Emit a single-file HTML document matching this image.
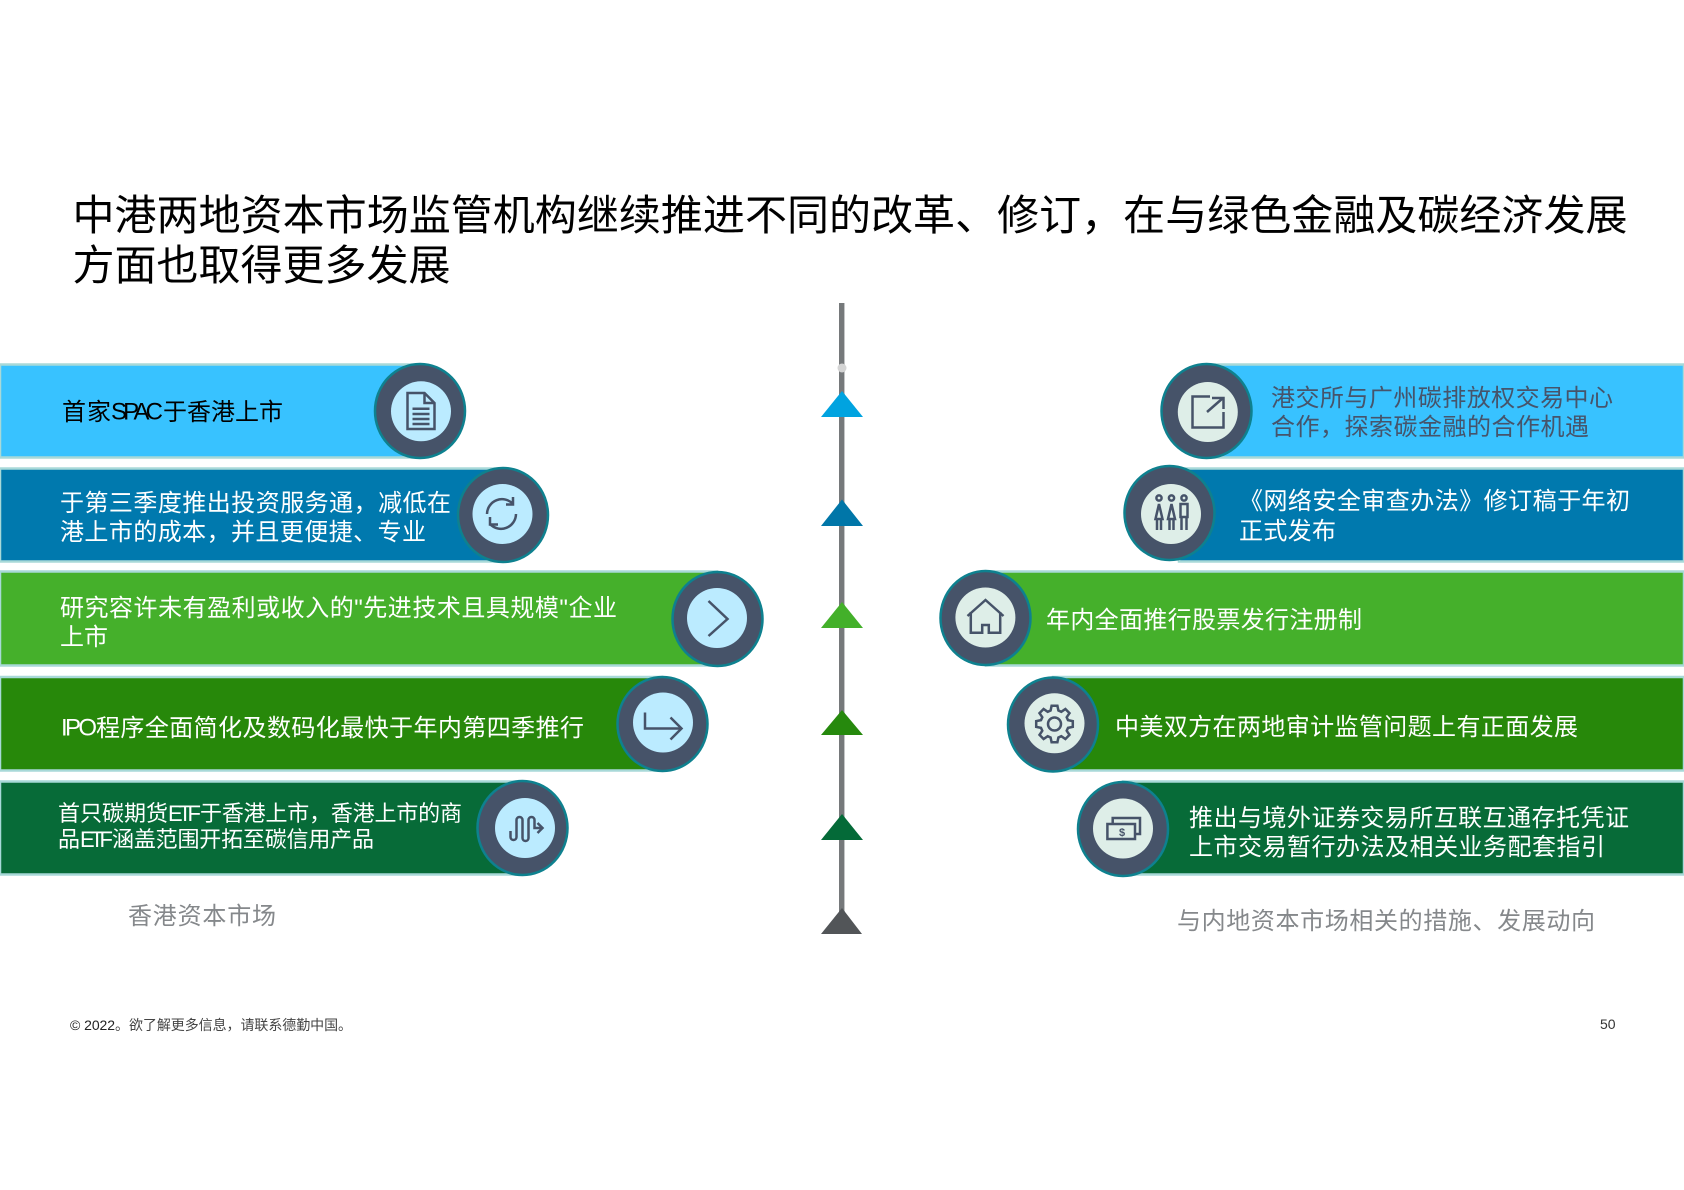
<!DOCTYPE html>
<html><head><meta charset="utf-8">
<style>
html,body{margin:0;padding:0;background:#fff;width:1684px;height:1190px;overflow:hidden}
svg{display:block}
text{font-family:"Liberation Sans","WenQuanYi Zen Hei","Noto Sans CJK SC",sans-serif}
.i{fill:none;stroke:#465369;stroke-width:2.5;stroke-linejoin:miter}
</style></head><body>
<svg width="1684" height="1190" viewBox="0 0 1684 1190" xmlns="http://www.w3.org/2000/svg">
<rect width="1684" height="1190" fill="#fff"/>
<!-- title -->
<text x="72.5" y="230" font-size="42" fill="#000" textLength="1555" lengthAdjust="spacing">中港两地资本市场监管机构继续推进不同的改革、修订，在与绿色金融及碳经济发展</text>
<text x="72.5" y="280" font-size="42" fill="#000" textLength="378" lengthAdjust="spacing">方面也取得更多发展</text>

<!-- spine -->
<rect x="839" y="303" width="5" height="612" fill="#76797b"/>
<rect x="844" y="303" width="1" height="612" fill="#c4c6c7"/>
<circle cx="842" cy="368" r="4.5" fill="#d4d4d4"/>
<polygon points="842,391 863,417 821,417" fill="#00a3e0"/>
<polygon points="842,499.5 863,526 821,526" fill="#0076a8"/>
<polygon points="842,602 863,628 821,628" fill="#43b02a"/>
<polygon points="842,710 863,735 821,735" fill="#26890d"/>
<polygon points="842,814 863,840 821,840" fill="#046a38"/>
<polygon points="842,908 862,934 821,934" fill="#525558"/>

<!-- left bars -->
<g stroke="#a8d9d8" stroke-width="2.5">
<rect x="0" y="364.5" width="420" height="93" fill="#38c2ff"/>
<rect x="0" y="468.5" width="503" height="93" fill="#0079ae"/>
<rect x="0" y="571.5" width="717" height="94" fill="#45b02b"/>
<rect x="0" y="677" width="662" height="93.5" fill="#27880a"/>
<rect x="0" y="781.5" width="522" height="93" fill="#076b38"/>
</g>
<!-- right bars -->
<g stroke="#a8d9d8" stroke-width="2.5">
<rect x="1207" y="364.5" width="477" height="93" fill="#38c2ff"/>
<rect x="1179" y="468.5" width="505" height="93" fill="#0079ae"/>
<rect x="986" y="571.5" width="698" height="94" fill="#45b02b"/>
<rect x="1053" y="677" width="631" height="93.5" fill="#27880a"/>
<rect x="1123" y="781.5" width="561" height="93" fill="#076b38"/>
</g>

<!-- circles -->
<g stroke="#0e818f" stroke-width="2.5" fill="#465369">
<ellipse cx="420" cy="411" rx="45" ry="47"/>
<ellipse cx="503" cy="515" rx="45" ry="47"/>
<ellipse cx="717.5" cy="619" rx="45" ry="47"/>
<ellipse cx="662.5" cy="724" rx="45" ry="47"/>
<ellipse cx="522.5" cy="828" rx="45" ry="47"/>
<ellipse cx="1206.5" cy="411" rx="45" ry="47"/>
<ellipse cx="1169.5" cy="513" rx="45" ry="47"/>
<ellipse cx="985.5" cy="618" rx="45" ry="47"/>
<ellipse cx="1053" cy="724.5" rx="45" ry="47"/>
<ellipse cx="1123" cy="829" rx="45" ry="47"/>
</g>
<g fill="#bbebff">
<circle cx="421" cy="411.3" r="30"/>
<circle cx="502.5" cy="514" r="30"/>
<circle cx="717" cy="618" r="30"/>
<circle cx="663" cy="722.5" r="30"/>
<circle cx="525" cy="828" r="30"/>
</g>
<g fill="#deeee8">
<circle cx="1207.8" cy="412" r="30"/>
<circle cx="1171" cy="514" r="30"/>
<circle cx="985.4" cy="617.5" r="30"/>
<circle cx="1054.5" cy="723.3" r="30"/>
<circle cx="1123" cy="828.5" r="30"/>
</g>

<!-- icons -->
<g class="i" transform="translate(420.5,411)"><path d="M-13,-18 H4 L14,-8 V18 H-13 Z M4,-18 V-8 H14"/><path d="M-8,-2.3 H9 M-8,3 H9 M-8,8 H9 M-8,13 H9"/></g>
<g class="i" transform="translate(502,514)"><path d="M-15,0 A15,15 0 0 1 11,-10"/><path d="M11,-17 V-9.5 H4"/><path d="M14,0 A15,15 0 0 1 -12,10"/><path d="M-12,3 V10.5 H-4"/></g>
<g class="i" transform="translate(717.5,619)"><path d="M-9,-18 L10,0 L-9,17"/></g>
<g class="i" transform="translate(662.5,723.5)"><path d="M-17.5,-11 V5 H19"/><path d="M8,-6 L19,5 L8,16"/></g>
<g class="i" transform="translate(524.5,828)"><path d="M-14,3 V9 a3,3 0 0 0 6,0 V-8 a3,3 0 0 1 6,0 V10 a3,3 0 0 0 6,0 V-8 a3,3 0 0 1 6,0 V0 H17"/><path d="M13,-5 L18,0 L13,5"/></g>
<g class="i" transform="translate(1207,411)"><path d="M3,-14.5 H-14.5 V16.5 H16.5 V1"/><path d="M0,1 L16,-13"/><path d="M5,-13 H16.5 V-2"/></g>
<g class="i" transform="translate(1170,513)">
<circle cx="-11" cy="-15" r="2.6"/><circle cx="1.5" cy="-15" r="2.6"/><circle cx="14" cy="-15" r="2.6"/>
<path d="M-11,-9 L-14.5,6 H-7.5 Z M-13,6 V17 M-9,6 V17"/>
<path d="M1.5,-9 L-2,6 H5 Z M-0.5,6 V17 M3.5,6 V17"/>
<path d="M10.5,-9 H17.5 V4 H10.5 Z M11.5,4 V17 M16.5,4 V17"/>
</g>
<g class="i" transform="translate(985.5,618)"><path d="M-18,-2 L0,-18 L18,-2"/><path d="M-14.7,-6 V14.7 H-3.3 V7 H3.3 V14.7 H14.7 V-6"/></g>
<g class="i" transform="translate(1054.5,724)"><path d="M13.5,-3.9 L18.3,-2.9 L18.3,2.9 L13.5,3.9 L12.2,6.8 L15,10.9 L10.9,15 L6.8,12.2 L3.9,13.5 L2.9,18.3 L-2.9,18.3 L-3.9,13.5 L-6.8,12.2 L-10.9,15 L-15,10.9 L-12.2,6.8 L-13.5,3.9 L-18.3,2.9 L-18.3,-2.9 L-13.5,-3.9 L-12.2,-6.8 L-15,-10.9 L-10.9,-15 L-6.8,-12.2 L-3.9,-13.5 L-2.9,-18.3 L2.9,-18.3 L3.9,-13.5 L6.8,-12.2 L10.9,-15 L15,-10.9 L12.2,-6.8 Z"/><circle r="6.5"/></g>
<g transform="translate(1123,829)"><path class="i" d="M-10.3,-5 V-11 H17 V5 H12"/><rect class="i" x="-15.6" y="-5" width="27.6" height="15"/><text x="-1" y="7" font-size="11" font-weight="bold" text-anchor="middle" fill="#465369">$</text></g>

<!-- left text -->
<g font-size="24" fill="#fff">
<text x="62" y="420" fill="#000" textLength="49" lengthAdjust="spacing">首家</text>
<text x="111" y="419.5" fill="#000" textLength="52" lengthAdjust="spacing">SPAC</text>
<text x="163" y="420" fill="#000" textLength="120" lengthAdjust="spacing">于香港上市</text>
<text x="60" y="511" textLength="391" lengthAdjust="spacing">于第三季度推出投资服务通，减低在</text>
<text x="60" y="540" textLength="366" lengthAdjust="spacing">港上市的成本，并且更便捷、专业</text>
<text x="60" y="616" textLength="557" lengthAdjust="spacing">研究容许未有盈利或收入的"先进技术且具规模"企业</text>
<text x="60" y="645" textLength="48" lengthAdjust="spacing">上市</text>
<text x="61" y="735.5" textLength="36" lengthAdjust="spacing">IPO</text>
<text x="96" y="736" textLength="488" lengthAdjust="spacing">程序全面简化及数码化最快于年内第四季推行</text>
</g>
<g font-size="22" fill="#fff">
<text x="58" y="821" textLength="110" lengthAdjust="spacing">首只碳期货</text>
<text x="168" y="821" textLength="33" lengthAdjust="spacing">ETF</text>
<text x="200" y="821" textLength="262" lengthAdjust="spacing">于香港上市，香港上市的商</text>
<text x="58" y="847" textLength="22" lengthAdjust="spacing">品</text>
<text x="80" y="847" textLength="33" lengthAdjust="spacing">ETF</text>
<text x="112" y="847" textLength="262" lengthAdjust="spacing">涵盖范围开拓至碳信用产品</text>
</g>
<text x="128" y="924" font-size="24" fill="#85888b" textLength="148" lengthAdjust="spacing">香港资本市场</text>

<!-- right text -->
<g font-size="24" fill="#46546b">
<text x="1271" y="406" textLength="342" lengthAdjust="spacing">港交所与广州碳排放权交易中心</text>
<text x="1271" y="435" textLength="318" lengthAdjust="spacing">合作，探索碳金融的合作机遇</text>
</g>
<g font-size="24" fill="#fff">
<text x="1239" y="509" textLength="391" lengthAdjust="spacing">《网络安全审查办法》修订稿于年初</text>
<text x="1239" y="539" textLength="97" lengthAdjust="spacing">正式发布</text>
<text x="1046" y="628" textLength="316" lengthAdjust="spacing">年内全面推行股票发行注册制</text>
<text x="1115" y="735" textLength="463" lengthAdjust="spacing">中美双方在两地审计监管问题上有正面发展</text>
<text x="1189" y="826" textLength="440" lengthAdjust="spacing">推出与境外证券交易所互联互通存托凭证</text>
<text x="1189" y="855" textLength="416" lengthAdjust="spacing">上市交易暂行办法及相关业务配套指引</text>
</g>
<text x="1177" y="929" font-size="24" fill="#85888b" textLength="418" lengthAdjust="spacing">与内地资本市场相关的措施、发展动向</text>

<!-- footer -->
<text x="70" y="1030" font-size="14" textLength="282" lengthAdjust="spacing"><tspan fill="#222">© 2022</tspan><tspan fill="#444">。欲了解更多信息，请联系德勤中国。</tspan></text>
<text x="1600" y="1029" font-size="14" fill="#333">50</text>
</svg>
</body></html>
